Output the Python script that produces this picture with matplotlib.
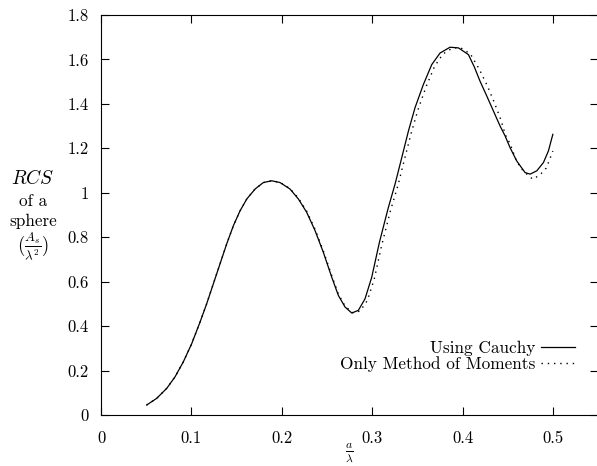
import numpy as np
import matplotlib
matplotlib.use("Agg")
import matplotlib.pyplot as plt

# RCS of a sphere vs a/lambda
x_cauchy = [0.0505, 0.0616, 0.0727, 0.0819, 0.0910, 0.1003, 0.1095, 0.1169, 0.1242, 0.1316,
            0.1390, 0.1464, 0.1538, 0.1612, 0.1704, 0.1795, 0.1888, 0.1980, 0.2090, 0.2183,
            0.2275, 0.2367, 0.2459, 0.2552, 0.2625, 0.2699, 0.2773, 0.2846, 0.2920, 0.2994,
            0.3079, 0.3178, 0.3252, 0.3326, 0.3400, 0.3473, 0.3565, 0.3658, 0.3750, 0.3860,
            0.3953, 0.4063, 0.4130, 0.4192, 0.4267, 0.4340, 0.4414, 0.4469, 0.4524, 0.4598,
            0.4690, 0.4746, 0.4820, 0.4893, 0.4948, 0.4997]
y_cauchy = [0.045, 0.075, 0.120, 0.172, 0.239, 0.321, 0.418, 0.501, 0.590, 0.680,
            0.770, 0.852, 0.919, 0.972, 1.017, 1.046, 1.054, 1.046, 1.017, 0.972,
            0.912, 0.830, 0.732, 0.620, 0.538, 0.486, 0.459, 0.471, 0.523, 0.620,
            0.777, 0.934, 1.039, 1.158, 1.278, 1.383, 1.487, 1.577, 1.629, 1.655,
            1.652, 1.622, 1.565, 1.502, 1.435, 1.368, 1.300, 1.256, 1.203, 1.143,
            1.091, 1.084, 1.099, 1.136, 1.188, 1.263]

x_mom = [0.0505, 0.0616, 0.0727, 0.0819, 0.0910, 0.1003, 0.1095, 0.1169, 0.1242, 0.1316,
         0.1390, 0.1464, 0.1538, 0.1612, 0.1704, 0.1795, 0.1888, 0.1980, 0.2090, 0.2183,
         0.2275, 0.2367, 0.2459, 0.2552, 0.2625, 0.2699, 0.2785, 0.2866, 0.2945, 0.3022,
         0.3105, 0.3205, 0.3282, 0.3356, 0.3430, 0.3505, 0.3595, 0.3688, 0.3780, 0.3890,
         0.3980, 0.4085, 0.4185, 0.4274, 0.4347, 0.4421, 0.4473, 0.4524, 0.4591, 0.4643,
         0.4709, 0.4775, 0.4856, 0.4923, 0.4959, 0.4997]
y_mom = [0.045, 0.075, 0.120, 0.172, 0.239, 0.321, 0.418, 0.501, 0.590, 0.680,
         0.770, 0.852, 0.919, 0.972, 1.017, 1.046, 1.054, 1.047, 1.019, 0.976,
         0.917, 0.836, 0.738, 0.627, 0.545, 0.490, 0.460, 0.468, 0.515, 0.612,
         0.765, 0.925, 1.030, 1.150, 1.268, 1.373, 1.477, 1.568, 1.624, 1.652,
         1.652, 1.625, 1.555, 1.480, 1.409, 1.330, 1.260, 1.221, 1.147, 1.111,
         1.084, 1.061, 1.081, 1.111, 1.147, 1.188]

xticks = [0, 0.1, 0.2, 0.3, 0.4, 0.5]
xticklabels = ["0", "0.1", "0.2", "0.3", "0.4", "0.5"]
yticks = [0, 0.2, 0.4, 0.6, 0.8, 1.0, 1.2, 1.4, 1.6, 1.8]
yticklabels = ["0", "0.2", "0.4", "0.6", "0.8", "1", "1.2", "1.4", "1.6", "1.8"]

plt.rcParams['font.family'] = 'cmr10'
plt.rcParams['mathtext.fontset'] = 'cm'
plt.rcParams['axes.unicode_minus'] = False

fig = plt.figure(figsize=(5.97, 4.66), dpi=100)
ax = fig.add_axes([0.1692, 0.1094, 0.833, 0.8584])

ax.plot(x_cauchy, y_cauchy, color='black', lw=0.9, label='Using Cauchy')
ax.plot(x_mom, y_mom, color='black', lw=1.0, linestyle=(0, (1, 3.5)),
        label='Only Method of Moments')

ax.set_xlim(0, 0.55)
ax.set_ylim(0, 1.8)
ax.set_xticks(xticks)
ax.set_xticklabels(xticklabels)
ax.set_yticks(yticks)
ax.set_yticklabels(yticklabels)
ax.tick_params(direction='in', top=True, right=True, length=6, width=0.8,
               labelsize=12)
ax.tick_params(axis='x', pad=11)
ax.tick_params(axis='y', pad=9)
for s in ax.spines.values():
    s.set_linewidth(0.8)
ax.spines['right'].set_visible(False)

ax.set_xlabel(r'$\frac{a}{\lambda}$', fontsize=12, labelpad=-3)

# y label in several lines, left of the axis
fig.text(0.055, 0.618, r'$RCS$', fontsize=14, ha='center', va='center')
fig.text(0.055, 0.567, 'of a', fontsize=12.3, ha='center', va='center')
fig.text(0.055, 0.524, 'sphere', fontsize=12.3, ha='center', va='center')
fig.text(0.055, 0.470, r'$(\frac{A_s}{\lambda^2})$', fontsize=13.5, ha='center', va='center')

ax.legend(loc='lower right', bbox_to_anchor=(0.97, 0.085), frameon=False,
          markerfirst=False, fontsize=12.4, handlelength=1.95, handletextpad=0.35,
          labelspacing=0.05, borderpad=0)

fig.savefig('out.png', dpi=100)
